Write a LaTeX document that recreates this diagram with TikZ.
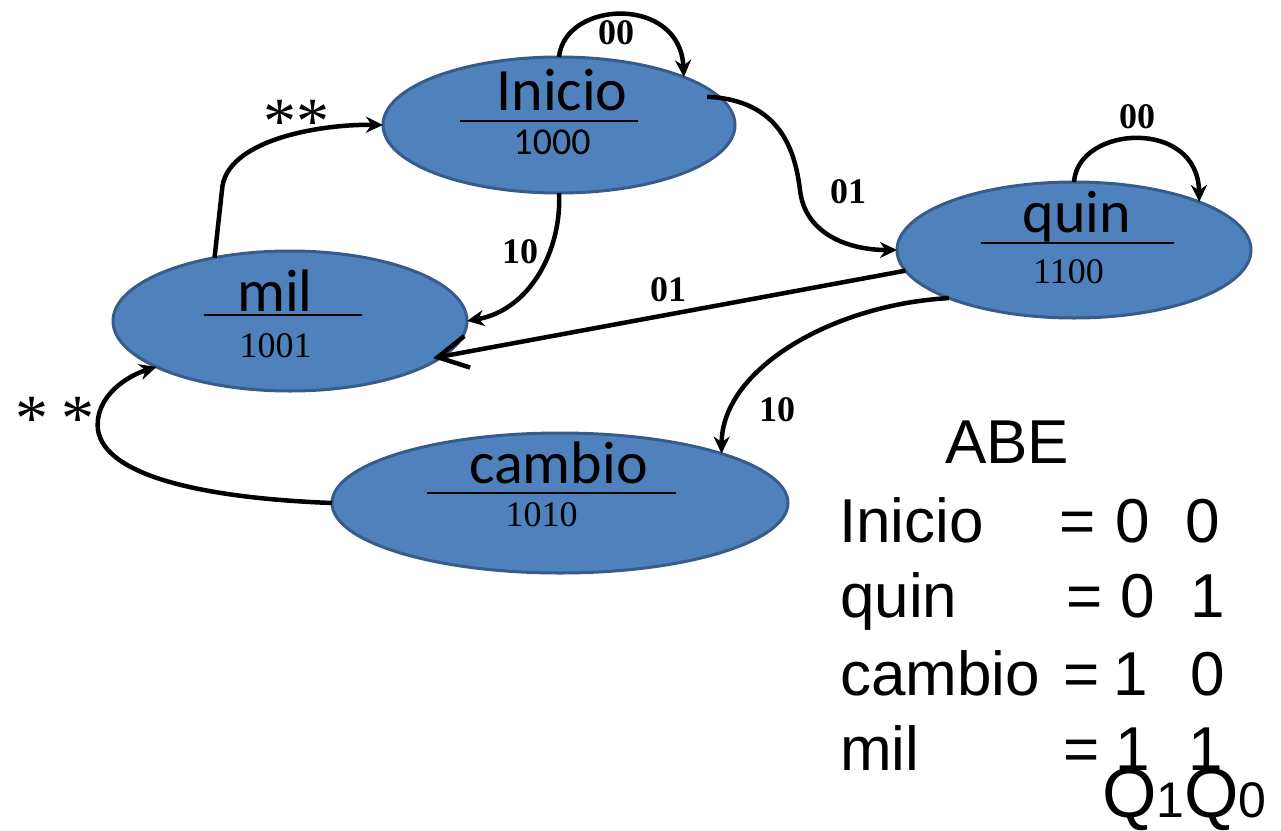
\documentclass[tikz,border=0pt]{standalone}
\usepackage{fontspec}
\newfontfamily\calfont{Carlito}
\newfontfamily\serfont{Liberation Serif}
\newfontfamily\arifont{Liberation Sans}
\usetikzlibrary{arrows.meta,shapes.geometric}
\definecolor{stfill}{RGB}{79,129,189}
\definecolor{stdraw}{RGB}{56,92,138}
\begin{document}
\begin{tikzpicture}[x=1pt,y=-1pt,
  state/.style={ellipse, fill=stfill, draw=stdraw, line width=3pt, inner sep=0pt, outer sep=0pt},
  nm/.style={font=\calfont\fontsize{60}{70}\selectfont, inner sep=0pt, anchor=base},
  cnum/.style={font=\calfont\fontsize{38}{44}\selectfont, inner sep=0pt, anchor=base},
  num/.style={font=\serfont\fontsize{36}{40}\selectfont, inner sep=0pt, anchor=base},
  elab/.style={font=\serfont\bfseries\fontsize{36}{40}\selectfont, inner sep=0pt},
  ast/.style={font=\serfont\fontsize{66}{70}\selectfont, inner sep=0pt, anchor=base},
  rule/.style={line width=1.8pt},
  tr/.style={line width=4.5pt, -{Stealth[length=17pt,width=16pt]}},
  rt/.style={font=\arifont\fontsize{62}{70}\selectfont, inner sep=0pt, anchor=base west}]
\useasboundingbox (0,0) rectangle (1281,830);

% states
\node[state, minimum width=352pt, minimum height=136pt] (ini) at (559,125) {};
\node[state, minimum width=354pt, minimum height=140pt] (mil) at (290,321) {};
\node[state, minimum width=354pt, minimum height=136pt] (quin) at (1074,250) {};
\node[state, minimum width=456pt, minimum height=140pt] (cam) at (560,503) {};

% state texts
\node[nm] (iniT) at (562,110) {Inicio};
\draw[rule] (460,121) -- (638,121);
\node[cnum] (iniN) at (552,154) {1000};

\node[nm] (milT) at (275,311) {mil};
\draw[rule] (204,315) -- (362,315);
\node[num] (milN) at (275.5,357) {1001};

\node[nm] (quinT) at (1077,232) {quin};
\draw[rule] (981,243) -- (1174,243);
\node[num] (quinN) at (1068.5,283) {1100};

\node[nm] (camT) at (558.5,483) {cambio};
\draw[rule] (427,493) -- (676,493);
\node[num] (camN) at (541.5,526) {1010};

% transitions
\draw[tr] (ini.90) .. controls (565,0) and (680,-5) .. (ini.21);
\draw[tr] ([xshift=-12pt]ini.10) .. controls (780,100) and (795,150) .. (800,190)
          .. controls (805,235) and (850,250) .. (quin.180);
\draw[tr] (quin.90) .. controls (1078,125) and (1198,118) .. (quin.21);
\draw[tr] (ini.270) .. controls (562,250) and (530,310) .. (mil.0);
\draw[line width=4.5pt, -{Straight Barb[length=30pt,width=32pt]}, shorten >=-10pt] (quin.187) -- (mil.-13);
\draw[tr] (quin.201) .. controls (830,305) and (722,370) .. (cam.17);
\draw[tr] (mil.140) -- (222,190) .. controls (225,140) and (320,124) .. (ini.180);
\draw[tr] (cam.180) .. controls (200,498) and (105,475) .. (98,430)
          .. controls (94,395) and (130,375) .. (mil.199);

% transition labels
\node[elab] (l1) at (616,33) {00};
\node[elab] (l2) at (848,192) {01};
\node[elab] (l3) at (1137,117) {00};
\node[elab] (l4) at (520,252) {10};
\node[elab] (l5) at (668,290) {01};
\node[elab] (l6) at (777,410) {10};
\node[ast] (a1) at (296,143) {**};
\node[ast] (a2) at (55,440) {*\hspace{14pt}*};

% encoding table
\node[rt] (abe) at (945,463) {ABE};
\node[rt] (r1) at (839,542) {Inicio};
\node[rt] (r2) at (840,617) {quin};
\node[rt] (r3) at (840,695) {cambio};
\node[rt] (r4) at (840,770) {mil};
\node[rt] (e1) at (1059,542) {=};
\node[rt] (e2) at (1066,617) {=};
\node[rt] (e3) at (1063,695) {=};
\node[rt] (e4) at (1063,770) {=};
\node[rt] (d11) at (1115,542) {0};
\node[rt] (d12) at (1185,542) {0};
\node[rt] (d21) at (1120,617) {0};
\node[rt] (d22) at (1190,617) {1};
\node[rt] (d31) at (1113,695) {1};
\node[rt] (d32) at (1190,695) {0};
\node[rt] (d41) at (1115,770) {1};
\node[rt] (d42) at (1188,770) {1};
\node[font=\arifont\fontsize{70}{76}\selectfont, inner sep=0pt, text depth=0pt, anchor=base west] (qq) at (1102,817)
  {Q{\fontsize{50}{50}\selectfont 1}Q{\fontsize{50}{50}\selectfont 0}};
\end{tikzpicture}
\end{document}
